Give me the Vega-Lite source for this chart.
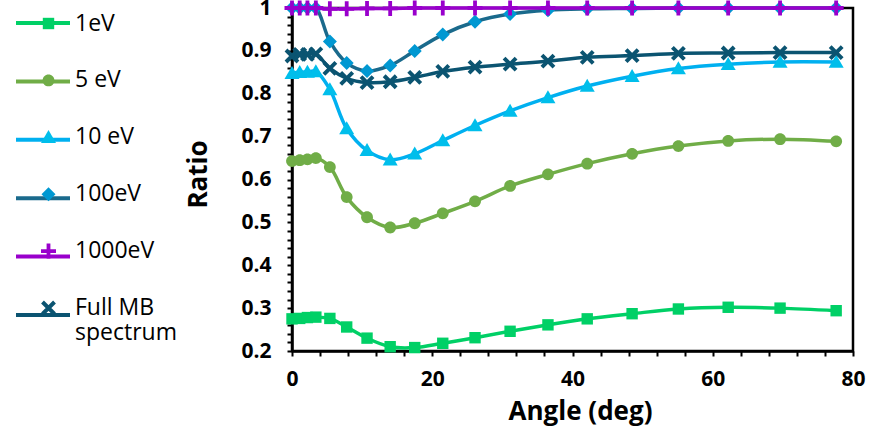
{
  "$schema": "https://vega.github.io/schema/vega-lite/v6.json",
  "width": 561,
  "height": 343,
  "autosize": "none",
  "padding": {"left": 292, "top": 8, "right": 27, "bottom": 76},
  "background": "white",
  "config": {"view": {"stroke": "black", "strokeWidth": 2.5}, "font": "Open Sans"},
  "data": {"values": [
    {"angle": 0, "series": "1eV", "ratio": 0.275}, {"angle": 1.1, "series": "1eV", "ratio": 0.276}, {"angle": 2.2, "series": "1eV", "ratio": 0.278}, {"angle": 3.4, "series": "1eV", "ratio": 0.279}, {"angle": 5.4, "series": "1eV", "ratio": 0.276}, {"angle": 7.8, "series": "1eV", "ratio": 0.256}, {"angle": 10.7, "series": "1eV", "ratio": 0.230}, {"angle": 14.0, "series": "1eV", "ratio": 0.210}, {"angle": 17.5, "series": "1eV", "ratio": 0.208}, {"angle": 21.5, "series": "1eV", "ratio": 0.218}, {"angle": 26.1, "series": "1eV", "ratio": 0.231}, {"angle": 31.1, "series": "1eV", "ratio": 0.246}, {"angle": 36.5, "series": "1eV", "ratio": 0.261}, {"angle": 42.1, "series": "1eV", "ratio": 0.275}, {"angle": 48.5, "series": "1eV", "ratio": 0.287}, {"angle": 55.1, "series": "1eV", "ratio": 0.298}, {"angle": 62.2, "series": "1eV", "ratio": 0.302}, {"angle": 69.6, "series": "1eV", "ratio": 0.300}, {"angle": 77.6, "series": "1eV", "ratio": 0.294},
    {"angle": 0, "series": "5 eV", "ratio": 0.643}, {"angle": 1.1, "series": "5 eV", "ratio": 0.645}, {"angle": 2.2, "series": "5 eV", "ratio": 0.647}, {"angle": 3.4, "series": "5 eV", "ratio": 0.650}, {"angle": 5.4, "series": "5 eV", "ratio": 0.629}, {"angle": 7.8, "series": "5 eV", "ratio": 0.559}, {"angle": 10.7, "series": "5 eV", "ratio": 0.512}, {"angle": 14.0, "series": "5 eV", "ratio": 0.488}, {"angle": 17.5, "series": "5 eV", "ratio": 0.498}, {"angle": 21.5, "series": "5 eV", "ratio": 0.521}, {"angle": 26.1, "series": "5 eV", "ratio": 0.549}, {"angle": 31.1, "series": "5 eV", "ratio": 0.585}, {"angle": 36.5, "series": "5 eV", "ratio": 0.612}, {"angle": 42.1, "series": "5 eV", "ratio": 0.637}, {"angle": 48.5, "series": "5 eV", "ratio": 0.660}, {"angle": 55.1, "series": "5 eV", "ratio": 0.678}, {"angle": 62.2, "series": "5 eV", "ratio": 0.690}, {"angle": 69.6, "series": "5 eV", "ratio": 0.694}, {"angle": 77.6, "series": "5 eV", "ratio": 0.689},
    {"angle": 0, "series": "10 eV", "ratio": 0.848}, {"angle": 1.1, "series": "10 eV", "ratio": 0.850}, {"angle": 2.2, "series": "10 eV", "ratio": 0.851}, {"angle": 3.4, "series": "10 eV", "ratio": 0.852}, {"angle": 5.4, "series": "10 eV", "ratio": 0.810}, {"angle": 7.8, "series": "10 eV", "ratio": 0.719}, {"angle": 10.7, "series": "10 eV", "ratio": 0.668}, {"angle": 14.0, "series": "10 eV", "ratio": 0.646}, {"angle": 17.5, "series": "10 eV", "ratio": 0.660}, {"angle": 21.5, "series": "10 eV", "ratio": 0.691}, {"angle": 26.1, "series": "10 eV", "ratio": 0.726}, {"angle": 31.1, "series": "10 eV", "ratio": 0.760}, {"angle": 36.5, "series": "10 eV", "ratio": 0.791}, {"angle": 42.1, "series": "10 eV", "ratio": 0.818}, {"angle": 48.5, "series": "10 eV", "ratio": 0.841}, {"angle": 55.1, "series": "10 eV", "ratio": 0.859}, {"angle": 62.2, "series": "10 eV", "ratio": 0.869}, {"angle": 69.6, "series": "10 eV", "ratio": 0.874}, {"angle": 77.6, "series": "10 eV", "ratio": 0.874},
    {"angle": 0, "series": "100eV", "ratio": 1.0}, {"angle": 1.1, "series": "100eV", "ratio": 1.0}, {"angle": 2.2, "series": "100eV", "ratio": 1.0}, {"angle": 3.4, "series": "100eV", "ratio": 1.0}, {"angle": 5.4, "series": "100eV", "ratio": 0.922}, {"angle": 7.8, "series": "100eV", "ratio": 0.872}, {"angle": 10.7, "series": "100eV", "ratio": 0.853}, {"angle": 14.0, "series": "100eV", "ratio": 0.866}, {"angle": 17.5, "series": "100eV", "ratio": 0.900}, {"angle": 21.5, "series": "100eV", "ratio": 0.938}, {"angle": 26.1, "series": "100eV", "ratio": 0.968}, {"angle": 31.1, "series": "100eV", "ratio": 0.986}, {"angle": 36.5, "series": "100eV", "ratio": 0.995}, {"angle": 42.1, "series": "100eV", "ratio": 0.998}, {"angle": 48.5, "series": "100eV", "ratio": 0.999}, {"angle": 55.1, "series": "100eV", "ratio": 1.0}, {"angle": 62.2, "series": "100eV", "ratio": 1.0}, {"angle": 69.6, "series": "100eV", "ratio": 1.0}, {"angle": 77.6, "series": "100eV", "ratio": 1.0},
    {"angle": 0, "series": "1000eV", "ratio": 1.0}, {"angle": 1.1, "series": "1000eV", "ratio": 1.0}, {"angle": 2.2, "series": "1000eV", "ratio": 1.0}, {"angle": 3.4, "series": "1000eV", "ratio": 1.0}, {"angle": 5.4, "series": "1000eV", "ratio": 0.998}, {"angle": 7.8, "series": "1000eV", "ratio": 0.998}, {"angle": 10.7, "series": "1000eV", "ratio": 0.999}, {"angle": 14.0, "series": "1000eV", "ratio": 0.999}, {"angle": 17.5, "series": "1000eV", "ratio": 1.0}, {"angle": 21.5, "series": "1000eV", "ratio": 1.0}, {"angle": 26.1, "series": "1000eV", "ratio": 1.0}, {"angle": 31.1, "series": "1000eV", "ratio": 1.0}, {"angle": 36.5, "series": "1000eV", "ratio": 1.0}, {"angle": 42.1, "series": "1000eV", "ratio": 1.0}, {"angle": 48.5, "series": "1000eV", "ratio": 1.0}, {"angle": 55.1, "series": "1000eV", "ratio": 1.0}, {"angle": 62.2, "series": "1000eV", "ratio": 1.0}, {"angle": 69.6, "series": "1000eV", "ratio": 1.0}, {"angle": 77.6, "series": "1000eV", "ratio": 1.0},
    {"angle": 0, "series": "Full MB spectrum", "ratio": 0.888}, {"angle": 1.1, "series": "Full MB spectrum", "ratio": 0.892}, {"angle": 2.2, "series": "Full MB spectrum", "ratio": 0.892}, {"angle": 3.4, "series": "Full MB spectrum", "ratio": 0.893}, {"angle": 5.4, "series": "Full MB spectrum", "ratio": 0.859}, {"angle": 7.8, "series": "Full MB spectrum", "ratio": 0.836}, {"angle": 10.7, "series": "Full MB spectrum", "ratio": 0.826}, {"angle": 14.0, "series": "Full MB spectrum", "ratio": 0.828}, {"angle": 17.5, "series": "Full MB spectrum", "ratio": 0.838}, {"angle": 21.5, "series": "Full MB spectrum", "ratio": 0.852}, {"angle": 26.1, "series": "Full MB spectrum", "ratio": 0.862}, {"angle": 31.1, "series": "Full MB spectrum", "ratio": 0.869}, {"angle": 36.5, "series": "Full MB spectrum", "ratio": 0.876}, {"angle": 42.1, "series": "Full MB spectrum", "ratio": 0.885}, {"angle": 48.5, "series": "Full MB spectrum", "ratio": 0.889}, {"angle": 55.1, "series": "Full MB spectrum", "ratio": 0.894}, {"angle": 62.2, "series": "Full MB spectrum", "ratio": 0.895}, {"angle": 69.6, "series": "Full MB spectrum", "ratio": 0.896}, {"angle": 77.6, "series": "Full MB spectrum", "ratio": 0.896}
  ]},
  "encoding": {
    "x": {
      "field": "angle", "type": "quantitative",
      "scale": {"domain": [0, 80], "nice": false},
      "axis": {
        "title": "Angle (deg)", "titleFont": "Open Sans", "titleFontSize": 26, "titleFontWeight": "bold", "titleColor": "black",
        "titleX": 288, "titleY": 68, "titleBaseline": "alphabetic", "titleAlign": "center",
        "values": [0, 4, 8, 12, 16, 20, 24, 28, 32, 36, 40, 44, 48, 52, 56, 60, 64, 68, 72, 76, 80],
        "labelExpr": "datum.value % 20 == 0 ? datum.label : ''",
        "labelFont": "Open Sans", "labelFontSize": 21, "labelFontWeight": "bold", "labelColor": "black",
        "labelOverlap": false, "labelFlush": false, "labelPadding": 12,
        "tickSize": 5, "tickWidth": 2, "tickColor": "black",
        "domainColor": "black", "domainWidth": 2.5, "grid": false
      }
    },
    "y": {
      "field": "ratio", "type": "quantitative",
      "scale": {"domain": [0.2, 1], "nice": false, "zero": false},
      "axis": {
        "title": "Ratio", "titleFont": "Open Sans", "titleFontSize": 26, "titleFontWeight": "bold", "titleColor": "black",
        "titleX": -86, "titleY": 166, "titleBaseline": "alphabetic", "titleAlign": "center", "titleAngle": -90,
        "values": [0.2, 0.22, 0.24, 0.26, 0.28, 0.3, 0.32, 0.34, 0.36, 0.38, 0.4, 0.42, 0.44, 0.46, 0.48, 0.5, 0.52, 0.54, 0.56, 0.58, 0.6, 0.62, 0.64, 0.66, 0.68, 0.7, 0.72, 0.74, 0.76, 0.78, 0.8, 0.82, 0.84, 0.86, 0.88, 0.9, 0.92, 0.94, 0.96, 0.98, 1.0],
        "labelExpr": "round(datum.value * 100) % 10 == 0 ? format(datum.value, '~g') : ''",
        "labelFont": "Open Sans", "labelFontSize": 21, "labelFontWeight": "bold", "labelColor": "black",
        "labelOverlap": false, "labelFlush": false, "labelPadding": 16,
        "tickSize": 5, "tickWidth": 2, "tickColor": "black",
        "domainColor": "black", "domainWidth": 2.5, "grid": false
      }
    }
  },
  "layer": [
    {
      "mark": {"type": "line", "interpolate": "catmull-rom", "strokeWidth": 3.5},
      "encoding": {
        "color": {
          "field": "series", "type": "nominal",
          "scale": {"domain": ["1eV", "5 eV", "10 eV", "100eV", "1000eV", "Full MB spectrum", "zz"], "range": ["#00D066", "#70AD47", "#00B0F0", "#1A6A8C", "#9900CC", "#0B5471", "transparent"]},
          "legend": {
            "title": null, "orient": "none", "legendX": -278, "legendY": -14, "padding": 0,
            "symbolType": "stroke", "symbolSize": 2916, "symbolStrokeWidth": 4,
            "labelExpr": "''", "labelFontSize": 1, "labelOffset": 0, "rowPadding": 21.4
          }
        }
      }
    },
    {
      "mark": {"type": "point", "filled": true, "opacity": 1, "strokeWidth": 0, "size": 100},
      "encoding": {
        "fill": {
          "field": "series", "type": "nominal",
          "scale": {"domain": ["1eV", "5 eV", "10 eV", "100eV", "1000eV", "Full MB spectrum"], "range": ["#00D066", "#70AD47", "#00BEEB", "#0098D2", "#9900CC", "#0B5471"]},
          "legend": {
            "title": null, "orient": "none", "legendX": -255, "legendY": 4, "padding": 0,
            "symbolSize": 100, "labelOffset": 15, "labelFont": "Open Sans", "labelFontSize": 23, "labelColor": "black",
            "rowPadding": 32.9, "labelLimit": 300, "labelBaseline": "middle",
            "labelExpr": "datum.label == 'Full MB spectrum' ? ['Full MB', 'spectrum'] : datum.label"
          }
        },
        "shape": {
          "field": "series", "type": "nominal",
          "scale": {"domain": ["1eV", "5 eV", "10 eV", "100eV", "1000eV", "Full MB spectrum"], "range": ["M-1.14,-1.14H1.14V1.14H-1.14Z", "M-1.18,0A1.18,1.18,0,1,1,1.18,0A1.18,1.18,0,1,1,-1.18,0Z", "M0,-1.45L1.5,1.15L-1.5,1.15Z", "M0,-1.4L1.4,0L0,1.4L-1.4,0Z", "M-0.38,-1.5H0.38V-0.38H1.5V0.38H0.38V1.5H-0.38V0.38H-1.5V-0.38H-0.38Z", "M-0.92,-1.48L1.48,0.92L0.92,1.48L-1.48,-0.92ZM0.92,-1.48L1.48,-0.92L-0.92,1.48L-1.48,0.92Z"]},
          "legend": {
            "title": null, "orient": "none", "legendX": -255, "legendY": 4, "padding": 0,
            "symbolSize": 100, "labelOffset": 15, "labelFont": "Open Sans", "labelFontSize": 23, "labelColor": "black",
            "rowPadding": 32.9, "labelLimit": 300, "labelBaseline": "middle",
            "labelExpr": "datum.label == 'Full MB spectrum' ? ['Full MB', 'spectrum'] : datum.label"
          }
        }
      }
    }
  ]
}
